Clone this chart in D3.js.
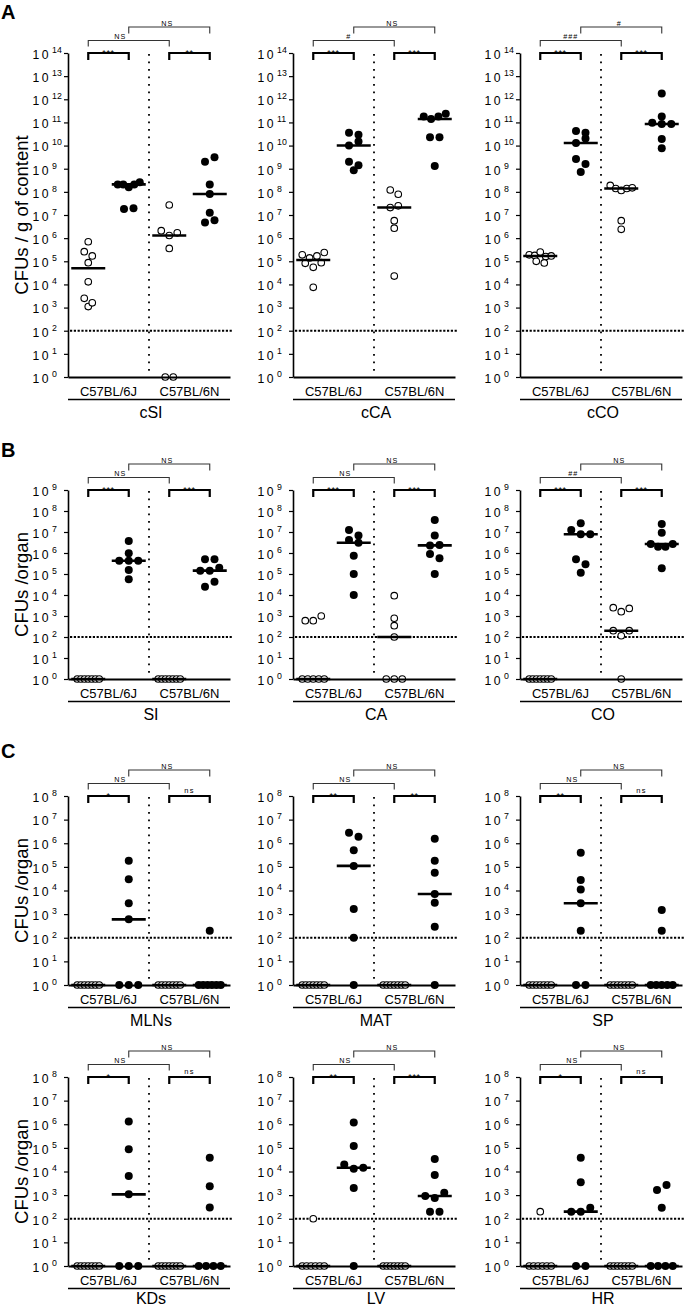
<!DOCTYPE html>
<html><head><meta charset="utf-8">
<script src="https://cdn.jsdelivr.net/npm/d3@7"></script>
<style>
body{margin:0;background:#fff}
svg{display:block}
text{font-family:"Liberation Sans",Arial,Helvetica,sans-serif;fill:#000}
</style>
</head><body>
<svg id="chart" width="685" height="1308"></svg>
<script>
// ---------------- data ----------------
const strains = ["C57BL/6J", "C57BL/6N"];
const organNames = ["cSI","cCA","cCO","SI","CA","CO","MLNs","MAT","SP","KDs","LV","HR"];
// each organ: [6J open, 6J filled, 6N open, 6N filled]  (0 CFU plotted as 1 = 10^0)
const cSI = [
  [7e5,2.6e5,1.7e5,8.7e4,1.3e4,2.5e3,1.1e3,1.6e3],
  [2.1e8,2.1e8,1.6e8,2.1e8,2.6e8,1.8e7,1.95e7],
  [2.7e7,2.1e6,1.3e6,1.7e6,3.6e5,1,1],
  [2e9,3.1e9,2.1e8,8.1e7,1.26e7,4.7e6,6e6]
];
const cCA = [
  [1.9e5,1.4e5,1.7e5,2.4e5,8.2e4,5.5e4,8.7e4,7.5e3],
  [3.6e10,2.9e10,1e10,1.5e10,2e9,1.4e9,8.5e8],
  [1.2e8,7.9e7,2.1e7,2.5e7,5.7e6,2.7e6,2.3e4],
  [1.8e11,1.4e11,1.8e11,2.4e11,2.3e10,2.3e10,1.3e9]
];
const cCO = [
  [1.9e5,1.8e5,2.5e5,1.6e5,1.7e5,1.0e5,8.5e4],
  [4.3e10,3.6e10,1.3e10,2.0e10,2.6e9,1.6e9,7.2e8],
  [1.9e8,1.4e8,1.15e8,1.4e8,1.5e8,5.7e6,2.4e6],
  [1.8e12,1.8e11,9.8e10,8.5e10,8.5e10,1.9e10,7.6e9]
];
const SI = [
  [1,1,1,1,1,1,1],
  [3.7e6,9.6e5,4.3e5,4.3e5,4.3e5,1.55e5,5.6e4],
  [1,1,1,1,1,1,1],
  [5e5,5e5,1.44e5,1.44e5,2e5,2.5e4,4.3e4]
];
const CA = [
  [600,600,1000,1,1,1,1,1],
  [1.25e7,6.9e6,4.2e6,3.1e6,7.4e5,1e5,1e4],
  [9.3e3,780,345,100,1,1,1],
  [3.7e7,6.9e6,2.3e6,2.4e6,9e5,5.6e5,1e5]
];
const CO = [
  [1,1,1,1,1,1,1],
  [2.6e7,1.25e7,7.8e6,7.8e6,5e5,2.9e5,1.15e5],
  [2.5e3,1.6e3,2.3e3,200,115,200,1],
  [2.4e7,9.3e6,2.7e6,2e6,2e6,2.7e6,1.9e5]
];
const MLNs = [
  [1,1,1,1,1,1,1],
  [1.8e5,3e4,2.9e3,600,1,1,1],
  [1,1,1,1,1,1,1],
  [200,1,1,1,1,1,1]
];
const MAT = [
  [1,1,1,1,1,1,1],
  [2.8e6,1.9e6,5.1e5,1.1e5,1.65e3,100,1],
  [1,1,1,1,1,1,1],
  [1.55e6,1.8e5,5.6e4,7.1e3,3e3,295,1]
];
const SP = [
  [1,1,1,1,1,1,1],
  [4e5,2.8e4,1.1e4,2.9e3,200,1,1],
  [1,1,1,1,1,1,1],
  [1.5e3,200,1,1,1,1,1]
];
const KDs = [
  [1,1,1,1,1,1,1],
  [1.3e6,8.7e4,6.5e3,1.08e3,1,1,1],
  [1,1,1,1,1,1,1],
  [3.8e4,2.4e3,300,1,1,1,1]
];
const LV = [
  [100,1,1,1,1,1,1],
  [1.2e6,1.2e5,2e4,1.3e4,1.44e4,2e3,1],
  [1,1,1,1,1,1,1],
  [3.4e4,7.1e3,920,760,1.26e3,200,200]
];
const HR = [
  [200,1,1,1,1,1,1],
  [3.8e4,3.5e3,200,200,295,1,1],
  [1,1,1,1,1,1,1],
  [1.65e3,2.7e3,295,1,1,1,1]
];
// significance labels
const sigJ      = ["***","***","***","***","***","***","*","**","**","*","**","*"];
const sigN      = ["**","***","***","***","***","***","ns","**","ns","ns","***","ns"];
const sigOpen   = ["NS","#","###","NS","NS","##","NS","NS","NS","NS","NS","NS"];
const sigFilled = ["NS","NS","#","NS","NS","NS","NS","NS","NS","NS","NS","NS"];
const limitOfDetection = 100;
const maxExps = [14, 9, 8, 8];
const yTitles = ["CFUs / g of content","CFUs /organ","CFUs /organ","CFUs /organ"];
const panelLetters = ["A","B","C",null];

// ---------------- layout ----------------
const svg = d3.select("#chart");
const W = 162;
const axisXs = [68, 293, 520];
const rowGeom = [
  {top:53, bottom:377, letterY:18.5},
  {top:490, bottom:679, letterY:457},
  {top:796, bottom:985, letterY:758},
  {top:1077, bottom:1266, letterY:null}
];
const datasets = [cSI,cCA,cCO,SI,CA,CO,MLNs,MAT,SP,KDs,LV,HR];
const groupCols = [1,3,5,7];
const filled = [false,true,false,true];

// Prism-like horizontal spreading of near-equal values
function spread(vals, y, base, maxW, thr){
  const idx = vals.map((v,i)=>i).sort((a,b)=>vals[b]-vals[a] || a-b);
  const off = new Array(vals.length).fill(0);
  let k = 0;
  while(k < idx.length){
    const y0 = y(vals[idx[k]]);
    const row = [idx[k]];
    let j = k+1;
    while(j < idx.length && y(vals[idx[j]]) - y0 < thr){ row.push(idx[j]); j++; }
    row.sort((a,b)=>a-b);
    const n = row.length;
    const sp = n>1 ? Math.min(base, maxW/(n-1)) : 0;
    row.forEach((r,i)=>{ off[r] = (i-(n-1)/2)*sp; });
    k = j;
  }
  return off;
}

// panel letters and y titles
rowGeom.forEach((r,ri)=>{
  if(panelLetters[ri]) svg.append("text").attr("x",1).attr("y",r.letterY)
    .attr("font-size",20).attr("font-weight","bold").text(panelLetters[ri]);
  const cy = (r.top + r.bottom)/2;
  svg.append("text").attr("transform",`translate(28,${cy}) rotate(-90)`)
    .attr("text-anchor","middle").attr("font-size",18.5).text(yTitles[ri]);
});

datasets.forEach((ds,i)=>{
  const ri = Math.floor(i/3), r = rowGeom[ri], ax = axisXs[i%3];
  const maxE = maxExps[ri];
  const y = d3.scaleLog().domain([1, Math.pow(10,maxE)]).range([r.bottom, r.top]);
  const x = d3.scaleLinear().domain([0,8]).range([ax, ax+W]);
  const g = svg.append("g");

  // limit of detection line
  g.append("line").attr("x1",ax+2).attr("x2",ax+W+3)
    .attr("y1",y(limitOfDetection)).attr("y2",y(limitOfDetection))
    .attr("stroke","#000").attr("stroke-width",2).attr("stroke-dasharray","2.2,1.6");
  // strain divider
  g.append("line").attr("x1",x(4)).attr("x2",x(4)).attr("y1",r.top+1).attr("y2",r.bottom-5)
    .attr("stroke","#000").attr("stroke-width",1.8).attr("stroke-dasharray","1.8,5.7");

  // points
  ds.forEach((vals,gi)=>{
    const isF = filled[gi];
    const off = spread(vals, y, isF?9.5:8, 22, 5.5);
    const cx = x(groupCols[gi]);
    g.selectAll(null).data(vals).enter().append("circle")
      .attr("cx",(d,k)=>cx+off[k]).attr("cy",d=>y(d))
      .attr("r", isF?4:3.3)
      .attr("fill", isF?"#000":"#fff")
      .attr("stroke","#000").attr("stroke-width", isF?0:1.1);
  });
  // medians
  ds.forEach((vals,gi)=>{
    const cx = x(groupCols[gi]);
    const m = d3.median(vals);
    g.append("line").attr("x1",cx-17).attr("x2",cx+17).attr("y1",y(m)).attr("y2",y(m))
      .attr("stroke","#000").attr("stroke-width",2.6);
  });

  // axes
  const yAxis = d3.axisLeft(y).tickValues(d3.range(0,maxE+1).map(e=>Math.pow(10,e)))
    .tickFormat("").tickSize(4).tickSizeOuter(0);
  const ya = g.append("g").attr("transform",`translate(${ax},0)`).call(yAxis);
  ya.select(".domain").attr("stroke-width",1.6);
  ya.selectAll(".tick line").attr("stroke-width",1.2);
  const xAxis = d3.axisBottom(x).tickValues([]).tickSizeOuter(0);
  const xa = g.append("g").attr("transform",`translate(0,${r.bottom})`).call(xAxis);
  xa.select(".domain").attr("stroke-width",2);

  // tick labels 10^e
  d3.range(0,maxE+1).forEach(e=>{
    const ty = y(Math.pow(10,e));
    g.append("text").attr("x",ax-35.5).attr("y",ty+5.8).attr("font-size",12.2)
      .attr("letter-spacing",2.4).text("10");
    g.append("text").attr("x",ax-16).attr("y",ty-0.2).attr("font-size",8.8).text(String(e));
  });

  // group labels
  strains.forEach((s,si)=>{
    g.append("text").attr("x",x(si===0?2:6)).attr("y",r.bottom+19).attr("text-anchor","middle")
      .attr("font-size",13).text(s);
  });
  g.append("line").attr("x1",ax).attr("x2",ax+W).attr("y1",r.bottom+22.5).attr("y2",r.bottom+22.5)
    .attr("stroke","#000").attr("stroke-width",1.5);
  g.append("text").attr("x",ax+83).attr("y",Math.min(r.bottom+40.7, 1303.5)).attr("text-anchor","middle")
    .attr("font-size",16).text(organNames[i]);

  // brackets
  const t = r.top;
  [[1,3,sigJ[i]],[5,7,sigN[i]]].forEach(([a,b,lab])=>{
    g.append("path").attr("d",`M${x(a)},${t+7}V${t}H${x(b)}V${t+7}`)
      .attr("fill","none").attr("stroke","#000").attr("stroke-width",2.2);
    const isStar = lab.indexOf("*")>=0;
    g.append("text").attr("x",(x(a)+x(b))/2).attr("y", isStar? t+2.8 : t-3)
      .attr("text-anchor","middle").attr("font-size", isStar?9:7.5)
      .attr("letter-spacing", isStar?0.6:1.3).attr("fill","#222").text(lab);
  });
  g.append("path").attr("d",`M${x(1)},${t-6.5}V${t-12.5}H${x(5)}V${t-6.5}`)
    .attr("fill","none").attr("stroke","#333").attr("stroke-width",1.1);
  g.append("text").attr("x",x(3)-2.5).attr("y",t-14.3).attr("text-anchor","end")
    .attr("font-size",7.2).attr("letter-spacing",1).attr("fill","#333").text(sigOpen[i]);
  g.append("path").attr("d",`M${x(3)},${t-19.5}V${t-26}H${x(7)}V${t-19.5}`)
    .attr("fill","none").attr("stroke","#333").attr("stroke-width",1.1);
  g.append("text").attr("x",x(4.9)).attr("y",t-27.3).attr("text-anchor","middle")
    .attr("font-size",7.2).attr("letter-spacing",1).attr("fill","#333").text(sigFilled[i]);
});
</script>
</body></html>
